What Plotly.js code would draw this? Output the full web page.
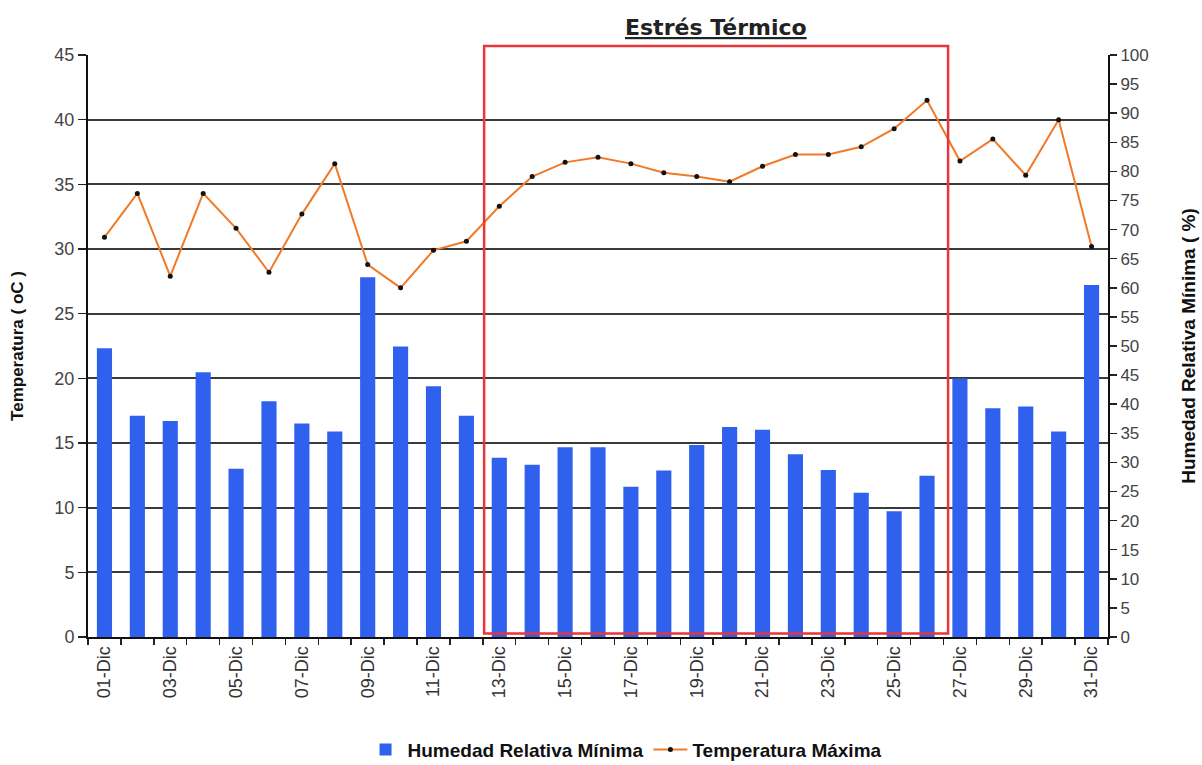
<!DOCTYPE html>
<html>
<head>
<meta charset="utf-8">
<script src="https://cdn.plot.ly/plotly-3.0.1.min.js"></script>
<style>html,body{margin:0;padding:0;background:#fff;}#chart{width:1202px;height:765px;}</style>
</head>
<body>
<div id="chart"></div>
<script>
const days = ['01-Dic','02-Dic','03-Dic','04-Dic','05-Dic','06-Dic','07-Dic','08-Dic','09-Dic','10-Dic',
  '11-Dic','12-Dic','13-Dic','14-Dic','15-Dic','16-Dic','17-Dic','18-Dic','19-Dic','20-Dic',
  '21-Dic','22-Dic','23-Dic','24-Dic','25-Dic','26-Dic','27-Dic','28-Dic','29-Dic','30-Dic','31-Dic'];
const humedadMin = [49.6,38.0,37.1,45.5,28.9,40.5,36.7,35.3,61.8,49.9,
  43.1,38.0,30.8,29.6,32.6,32.6,25.8,28.6,33.0,36.1,
  35.6,31.4,28.7,24.8,21.6,27.7,44.4,39.3,39.6,35.3,60.5];
const tempMax = [30.9,34.3,27.9,34.3,31.6,28.2,32.7,36.6,28.8,27.0,
  29.9,30.6,33.3,35.6,36.7,37.1,36.6,35.9,35.6,35.2,
  36.4,37.3,37.3,37.9,39.3,41.5,36.8,38.5,35.7,40.0,30.2];
const tickText = days.map((d,i) => i % 2 === 0 ? d : '');
const stressStart = '13-Dic', stressEnd = '26-Dic';

const font = 'Liberation Sans, Arial, sans-serif';
const x0 = days.indexOf(stressStart) - 0.46;
const x1 = days.indexOf(stressEnd) + 0.64;

const traces = [
  {type:'bar', name:'Humedad Relativa Mínima', x:days, y:humedadMin, yaxis:'y2',
   marker:{color:'#2f60ee'}, width:0.46},
  {type:'scatter', mode:'lines+markers', name:'Temperatura Máxima', x:days, y:tempMax, yaxis:'y',
   line:{color:'#f07a28', width:2}, marker:{color:'#111', size:5}}
];

const layout = {
  width:1202, height:765,
  margin:{l:88, r:94, t:55, b:128, autoexpand:false},
  paper_bgcolor:'#fff', plot_bgcolor:'#fff',
  font:{family:font, color:'#222', size:17},
  showlegend:true,
  legend:{orientation:'h', x:0.52, xanchor:'center', xref:'container', yref:'container', y:0.02, yanchor:'middle',
    font:{family:font, size:19, color:'#111', weight:'bold'}, itemwidth:34, tracegroupgap:0},
  xaxis:{type:'category', tickvals:days, ticktext:tickText, tickangle:-90, tickson:'boundaries',
    ticks:'outside', ticklen:6, tickcolor:'#222', tickwidth:1.5,
    showline:true, linecolor:'#111', linewidth:2, showgrid:false, range:[-0.5,30.5],
    tickfont:{size:18, color:'#333'}},
  yaxis:{range:[0,45], dtick:5, tick0:0, ticks:'outside', ticklen:8, tickcolor:'#222', tickwidth:1.5,
    showline:true, linecolor:'#111', linewidth:2, showgrid:true, gridcolor:'#3a3a3a', gridwidth:2,
    zeroline:false, tickfont:{size:18, color:'#444'},
    title:{text:'Temperatura ( oC )', standoff:26, font:{size:17, color:'#111', weight:'bold'}}},
  yaxis2:{overlaying:'y', side:'right', range:[0,100], dtick:5, tick0:0, ticks:'outside', ticklen:7,
    tickcolor:'#222', tickwidth:1.5, showline:true, linecolor:'#111', linewidth:2, showgrid:false,
    zeroline:false, tickfont:{size:17, color:'#444'},
    title:{text:'Humedad Relativa Mínima ( %)', standoff:34, font:{size:19, color:'#111', weight:'bold'}}},
  shapes:[{type:'rect', xref:'x', yref:'paper', x0:x0, x1:x1, y0:0.006, y1:1.0155,
    line:{color:'#e8353a', width:2.5}, fillcolor:'rgba(0,0,0,0)', layer:'above'}],
  annotations:[{xref:'x', yref:'paper', x:(x0+x1)/2, y:1.047, yanchor:'middle', showarrow:false,
    text:'<u>Estrés Térmico</u>', font:{family:'DejaVu Sans, Verdana, sans-serif', size:22, color:'#222', weight:'bold'}}]
};

Plotly.newPlot('chart', traces, layout, {displayModeBar:false, staticPlot:true});
</script>
</body>
</html>
